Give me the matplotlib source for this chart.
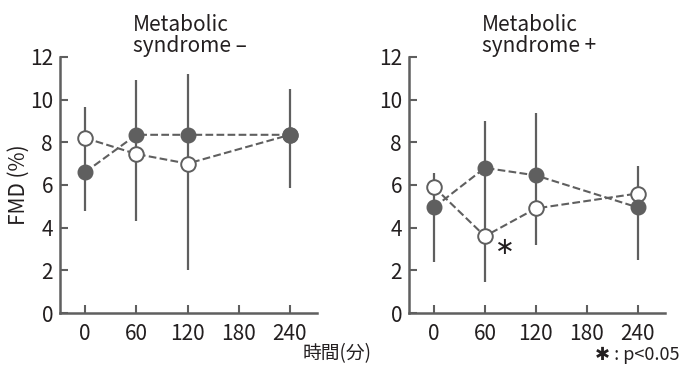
import matplotlib
matplotlib.use('Agg')
import matplotlib.pyplot as plt
import numpy as np

plt.rcParams['font.family'] = ['Noto Sans CJK JP', 'DejaVu Sans']

times = [0, 60, 120, 240]
xticks = [0, 60, 120, 180, 240]

# Metabolic syndrome -
neg_filled = [6.6, 8.35, 8.35, 8.35]
neg_open = [8.2, 7.45, 7.0, 8.35]
neg_lo = [4.8, 4.3, 2.0, 5.85]
neg_hi = [9.65, 10.9, 11.2, 10.5]

# Metabolic syndrome +
pos_filled = [4.95, 6.8, 6.45, 4.95]
pos_open = [5.9, 3.6, 4.9, 5.6]
pos_lo = [2.4, 1.45, 3.2, 2.5]
pos_hi = [6.55, 9.0, 9.35, 6.9]

titles = ['Metabolic\nsyndrome \u2013', 'Metabolic\nsyndrome +']

c = '#5f5f5f'
tc = '#231f20'
fig = plt.figure(figsize=(6.82, 3.67), dpi=100)
ax1 = fig.add_axes([0.088, 0.147, 0.377, 0.698])
ax2 = fig.add_axes([0.5997, 0.147, 0.375, 0.698])

panels = [(ax1, neg_filled, neg_open, neg_lo, neg_hi),
          (ax2, pos_filled, pos_open, pos_lo, pos_hi)]

for i, (ax, filled, opn, lo, hi) in enumerate(panels):
    ax.vlines(times, lo, hi, color=c, lw=1.6, zorder=1)
    ax.plot(times, filled, ls='--', color=c, lw=1.5, marker='o', ms=10.5,
            mfc=c, mec=c, zorder=3)
    ax.plot(times, opn, ls='--', color=c, lw=1.5, marker='o', ms=10.5,
            mfc='white', mec=c, mew=1.4, zorder=2)
    ax.set_xlim(-29.5, 272)
    ax.set_ylim(0, 12)
    ax.set_xticks(xticks)
    ax.set_yticks(range(0, 13, 2))
    ax.tick_params(direction='in', length=6, width=1.5, color=c,
                   labelsize=15, colors=tc, pad=5)
    ax.tick_params(axis='x', pad=7)
    for s in ['top', 'right']:
        ax.spines[s].set_visible(False)
    for s in ['left', 'bottom']:
        ax.spines[s].set_linewidth(1.8)
        ax.spines[s].set_color(c)
    ax.set_title(titles[i], fontsize=15, ha='left', x=0.285, pad=3,
                 color=tc, linespacing=0.95)

ax1.set_ylabel('FMD (%)', fontsize=15, color=tc, labelpad=0)
ax2.text(84, 3.05, '\u2217', fontsize=17, ha='center', va='center',
         color=tc)
fig.text(0.444, 0.022, '時間(分)', fontsize=13.5, color=tc)
fig.text(0.997, 0.018, '\u2731 : p<0.05', fontsize=13, ha='right',
         color=tc)

fig.savefig('out.png', dpi=100)
